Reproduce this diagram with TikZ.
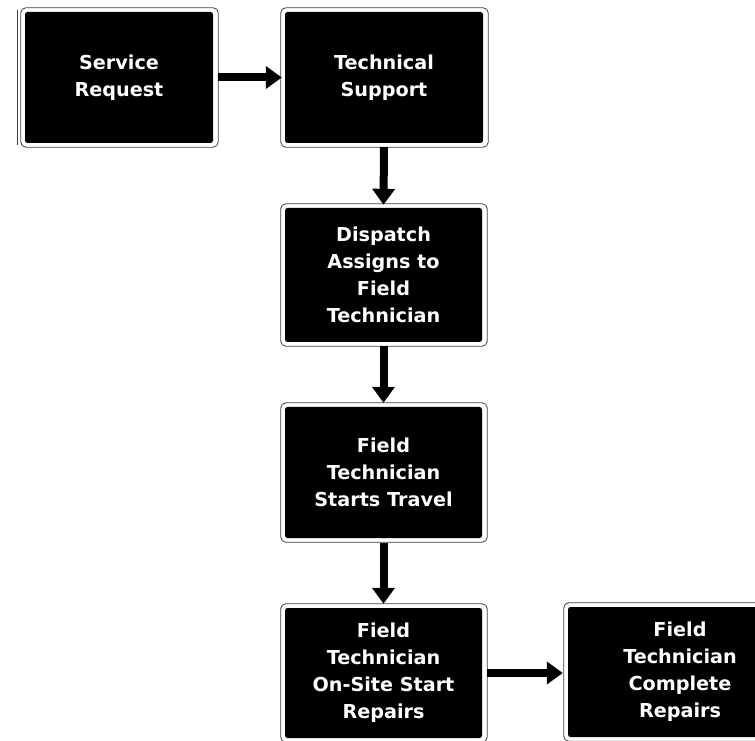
\documentclass[tikz,border=0pt]{standalone}
\usepackage{fontspec}
\setmainfont{DejaVu Sans}
\usetikzlibrary{arrows.meta}
\tikzset{
  stepbox/.style={fill=black, text=white, rounded corners=2.5pt, inner sep=0pt,
    font=\bfseries\fontsize{19.2pt}{27pt}\selectfont, align=center},
  outerline/.style={draw=black!75, line width=0.8pt, rounded corners=5pt},
  flow/.style={line width=8pt, -{Triangle[width=22pt,length=16pt]}}
}
\begin{document}
\begin{tikzpicture}[x=1pt,y=1pt]
\useasboundingbox (0,0) rectangle (755,740);
\clip (0,0) rectangle (755,740);
% boxes (centres in pixel coordinates, y measured from the bottom)
\node[stepbox, minimum width=188pt, minimum height=131pt] (sr) at (119,662.5) {Service\\Request};
\node[stepbox, minimum width=198pt, minimum height=131pt] (ts) at (384,662.5) {Technical\\Support};
\node[stepbox, minimum width=197pt, minimum height=134pt] (da) at (383.5,465) {Dispatch\\Assigns to\\Field\\Technician};
\node[stepbox, minimum width=197pt, minimum height=131pt] (st) at (383.5,267.5) {Field\\Technician\\Starts Travel};
\node[stepbox, minimum width=197pt, minimum height=130pt] (os) at (383.5,67) {Field\\Technician\\On-Site Start\\Repairs};
\node[stepbox, minimum width=224pt, minimum height=130pt] (cr) at (680,68) {Field\\Technician\\Complete\\Repairs};
% thin outer frames
\foreach \n in {sr,ts,da,st,os,cr}{
  \draw[outerline] ([shift={(-4pt,-4pt)}]\n.south west) rectangle ([shift={(5pt,4pt)}]\n.north east);
}
\draw[black!75, line width=0.8pt] ([shift={(-7pt,-2pt)}]sr.south west) -- ([shift={(-7pt,2pt)}]sr.north west);
% connectors
\draw[flow, shorten <=5pt, shorten >=3pt] (sr.east) -- (ts.west);
\draw[flow, shorten <=4pt, shorten >=3pt] (ts.south) -- (da.north);
\draw[flow, shorten <=4pt, shorten >=4pt] (da.south) -- (st.north);
\draw[flow, shorten <=5pt, shorten >=4pt] (st.south) -- (os.north);
\draw[flow, shorten <=5pt, shorten >=5pt] (os.east) -- (os.east -| cr.west);
\end{tikzpicture}
\end{document}
